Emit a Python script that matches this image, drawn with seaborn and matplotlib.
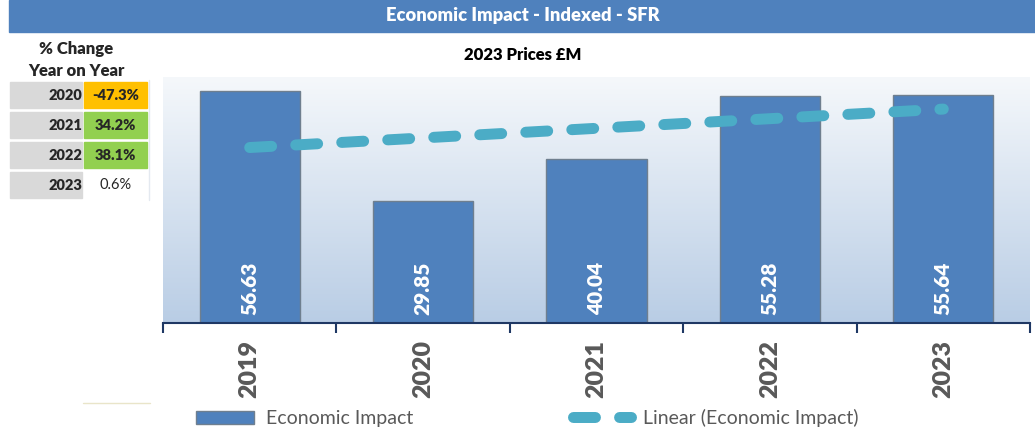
import numpy as np
import pandas as pd
import matplotlib
matplotlib.use("Agg")
import matplotlib.pyplot as plt
from matplotlib.patches import Rectangle, Patch
from matplotlib.lines import Line2D
import seaborn as sns

# ---- data ----
years = ["2019", "2020", "2021", "2022", "2023"]
impact = [56.63, 29.85, 40.04, 55.28, 55.64]
change_years = ["2020", "2021", "2022", "2023"]
change_pct = ["-47.3%", "34.2%", "38.1%", "0.6%"]
change_colors = ["#FFC000", "#92D050", "#92D050", "#FFFFFF"]

title = "Economic Impact - Indexed - SFR"
subtitle = "2023 Prices £M"

sns.set_theme(style="white")
plt.rcParams["font.family"] = ["Lato", "DejaVu Sans"]

W, H = 1035, 430
fig = plt.figure(figsize=(W / 100, H / 100), dpi=100)

def fx(px):
    return px / W

def fy(py):
    return 1 - py / H

BLUE = "#4F81BD"
TEAL = "#4BACC6"
GREY_TXT = "#595959"

# title banner
fig.patches.append(Rectangle((fx(9), fy(32)), fx(W - 9), 32 / H,
                             transform=fig.transFigure, color=BLUE, zorder=0))
fig.text(fx(523), fy(16), title, color="white", fontsize=13.2, fontweight="heavy",
         ha="center", va="center")
fig.text(fx(523), fy(55), subtitle, color="black", fontsize=12, fontweight="heavy",
         ha="center", va="center")

# year-on-year change table
fig.text(fx(76), fy(49), "% Change", fontsize=12, fontweight="heavy", ha="center", va="center")
fig.text(fx(76), fy(71), "Year on Year", fontsize=12, fontweight="heavy", ha="center", va="center")
row_tops = [82, 112, 142, 172]
for top, yr, pct, col in zip(row_tops, change_years, change_pct, change_colors):
    h = 26
    fig.patches.append(Rectangle((fx(10), fy(top + h)), fx(72), h / H,
                                 transform=fig.transFigure, color="#D9D9D9", zorder=0))
    fig.patches.append(Rectangle((fx(84), fy(top + h)), fx(63), h / H,
                                 transform=fig.transFigure, color=col, zorder=0))
    fig.text(fx(82), fy(top + h / 2), yr, fontsize=10.5, fontweight="heavy",
             ha="right", va="center")
    weight = "heavy" if col != "#FFFFFF" else "normal"
    fig.text(fx(115.5), fy(top + h / 2), pct, fontsize=10.5, fontweight=weight,
             ha="center", va="center")
fig.add_artist(Line2D([fx(149), fx(149)], [fy(80), fy(200)], color="#E4E9F0", lw=1))
fig.add_artist(Line2D([fx(83), fx(150)], [fy(403), fy(403)], color="#E9E5C9", lw=1))

# ---- chart ----
ax = fig.add_axes([fx(163), fy(323), fx(1030 - 163), (323 - 77) / H])
df = pd.DataFrame({"year": years, "impact": impact})

# gradient plot background
grad = np.linspace(0, 1, 256).reshape(-1, 1)
cmap = matplotlib.colors.LinearSegmentedColormap.from_list("bg", ["#F5F8FB", "#B9CDE5"])
ax.imshow(grad, aspect="auto", cmap=cmap, extent=(-0.5, 4.5, 0, 60),
          origin="upper", zorder=0)

sns.barplot(data=df, x="year", y="impact", color=BLUE, saturation=1, width=0.577,
            edgecolor="#6F7F8F", linewidth=1, ax=ax, zorder=2)

sns.regplot(x=np.arange(len(years)), y=impact, scatter=False, ci=None, truncate=True,
            ax=ax, color=TEAL,
            line_kws=dict(lw=7.9, linestyle=(0, (2.0, 2.2)), dash_capstyle="round",
                          zorder=3))

for i, v in enumerate(impact):
    ax.text(i, 2.0, f"{v:.2f}", rotation=90, color="white", fontsize=15,
            fontweight="heavy", ha="center", va="bottom", zorder=4)

ax.set_xlim(-0.5, 4.5)
ax.set_ylim(0, 60)
ax.set_xlabel("")
ax.set_ylabel("")
ax.set_yticks([])
ax.set_xticks(range(len(years)))
ax.set_xticklabels(years, rotation=90, fontsize=18, fontweight="heavy", color=GREY_TXT)
ax.tick_params(axis="x", which="major", length=0, pad=12)
ax.set_xticks(np.arange(-0.5, 5, 1), minor=True)
ax.tick_params(axis="x", which="minor", length=7, width=1.5, color="#1F3864",
               direction="out", bottom=True)
for s in ["top", "left", "right"]:
    ax.spines[s].set_visible(False)
ax.spines["bottom"].set_color("#1F3864")
ax.spines["bottom"].set_linewidth(1.5)
ax.grid(False)

handles = [Patch(facecolor=BLUE, edgecolor="#6F7F8F", lw=1),
           Line2D([0], [0], color=TEAL, lw=7.9, linestyle=(0, (2.0, 2.2)),
                  dash_capstyle="round")]
fig.legend(handles, ["Economic Impact", "Linear (Economic Impact)"],
           loc="center", bbox_to_anchor=(fx(527), fy(418)), ncol=2, frameon=False,
           fontsize=14, labelcolor=GREY_TXT, handlelength=3.0, handleheight=0.65,
           handletextpad=0.6, columnspacing=8.2)

fig.savefig("out.png", dpi=100)
